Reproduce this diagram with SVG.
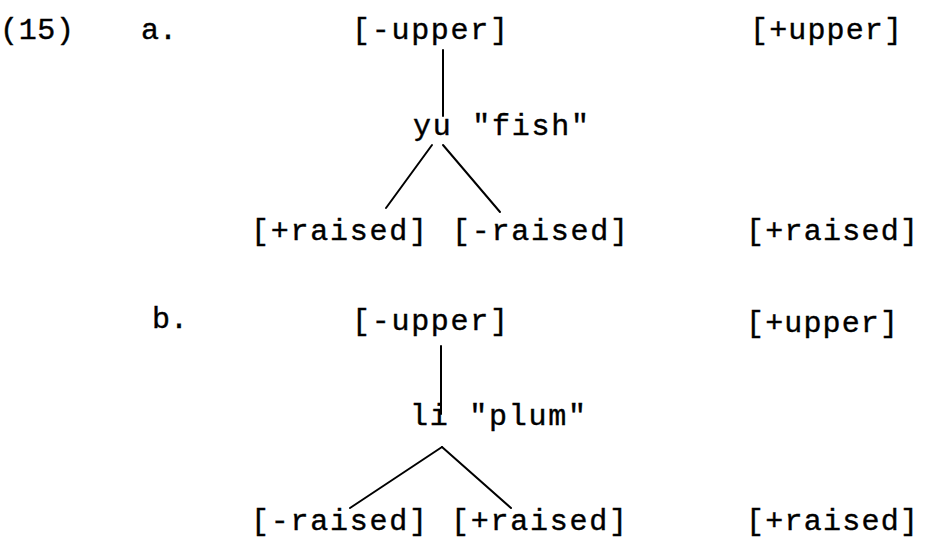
<svg xmlns="http://www.w3.org/2000/svg" width="926" height="542" viewBox="0 0 926 542">
<style>
text{font-family:"Liberation Mono","Courier New",monospace;font-size:30px;fill:#000;stroke:#000;stroke-width:0.4}
.ln{stroke:#000;stroke-width:2;fill:none;stroke-linecap:round}
</style>
<rect width="926" height="542" fill="#fff"/>
<g id="label-15"><text x="0" y="39" textLength="74">(15)</text></g>
<g id="label-a"><text x="141" y="39">a.</text></g>
<g id="a-minus-upper"><text x="352" y="39" textLength="156">[-upper]</text></g>
<g id="a-plus-upper"><text x="750" y="39" textLength="152">[+upper]</text></g>
<g id="a-yu"><text x="413" y="135" textLength="176">yu "fish"</text></g>
<g id="a-plus-raised"><text x="251" y="240" textLength="176">[+raised]</text></g>
<g id="a-minus-raised"><text x="452" y="240" textLength="176">[-raised]</text></g>
<g id="a-plus-raised-right"><text x="746" y="240" textLength="172">[+raised]</text></g>
<g id="label-b"><text x="152" y="328">b.</text></g>
<g id="b-minus-upper"><text x="352" y="330" textLength="156">[-upper]</text></g>
<g id="b-plus-upper"><text x="746" y="332" textLength="152">[+upper]</text></g>
<g id="b-li"><text x="410" y="425" textLength="176">li "plum"</text></g>
<g id="b-minus-raised"><text x="251" y="530" textLength="176">[-raised]</text></g>
<g id="b-plus-raised"><text x="451" y="530" textLength="176">[+raised]</text></g>
<g id="b-plus-raised-right"><text x="746" y="530" textLength="172">[+raised]</text></g>
<g id="connectors">
<line class="ln" x1="443" y1="50" x2="443" y2="116"/>
<line class="ln" x1="432" y1="145" x2="386" y2="208"/>
<line class="ln" x1="443" y1="145" x2="500" y2="212"/>
<line class="ln" x1="441" y1="346" x2="441" y2="414"/>
<line class="ln" x1="442" y1="447" x2="350" y2="508"/>
<line class="ln" x1="442" y1="447" x2="511" y2="508"/>
</g>
</svg>
